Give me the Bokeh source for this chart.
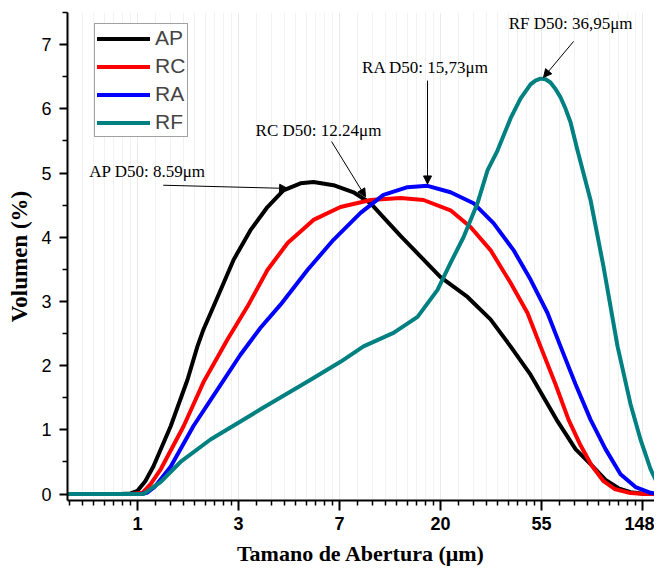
import math
from bokeh.plotting import figure
from bokeh.models import (Range1d, FixedTicker, CustomJSTickFormatter, Arrow,
                          NormalHead, Label, Legend, LegendItem)
from bokeh.embed import file_html
from bokeh.resources import INLINE

# ---------------- data ----------------
ap_x = [0.5, 0.845, 0.933, 1.00, 1.08, 1.17, 1.39, 1.64, 1.81, 1.92, 2.21, 2.59, 3.06, 3.62,
        4.24, 5.02, 5.71, 6.96, 8.49, 10.04, 11.42, 13.52, 20.09, 26.24, 32.95, 40.17, 48.97,
        63.33, 76.46, 89.58, 102.9, 117.0, 131.8, 152.9, 181]
ap_y = [0, 0, 0.01, 0.05, 0.2, 0.43, 1.06, 1.78, 2.30, 2.56, 3.07, 3.65, 4.11, 4.47,
        4.73, 4.84, 4.86, 4.81, 4.70, 4.53, 4.31, 4.02, 3.38, 3.07, 2.72, 2.30, 1.86,
        1.16, 0.70, 0.45, 0.22, 0.09, 0.03, 0, 0]

rc_x = [0.5, 0.933, 1.05, 1.14, 1.26, 1.58, 1.92, 2.44, 2.97, 3.62, 4.42, 5.71, 7.46, 10.04,
        13.52, 16.97, 22.18, 27.03, 32.95, 40.17, 47.53, 54.05, 62.71, 71.33, 80.33, 89.58,
        100.9, 112.5, 131.8, 152.9, 181]
rc_y = [0, 0, 0.02, 0.16, 0.39, 1.06, 1.74, 2.41, 2.92, 3.49, 3.91, 4.27, 4.47, 4.58,
        4.61, 4.58, 4.42, 4.16, 3.80, 3.29, 2.82, 2.30, 1.71, 1.16, 0.76, 0.45,
        0.20, 0.08, 0.015, 0, 0]

ra_x = [0.5, 1.03, 1.10, 1.19, 1.39, 1.74, 2.21, 2.77, 3.38, 4.12, 5.38, 6.96, 9.10, 11.42,
        14.49, 17.66, 22.18, 27.85, 33.94, 41.38, 48.97, 57.93, 65.89, 76.46, 88.69, 102.9,
        119.4, 138.5, 160.7, 181]
ra_y = [0, 0, 0.02, 0.12, 0.43, 1.06, 1.63, 2.17, 2.59, 2.95, 3.49, 3.96, 4.38, 4.66,
        4.78, 4.80, 4.70, 4.53, 4.22, 3.80, 3.34, 2.82, 2.30, 1.71, 1.16, 0.70,
        0.31, 0.11, 0.02, 0]

rf_x = [0.5, 1.06, 1.14, 1.26, 1.53, 2.06, 3.38, 5.55, 7.46, 9.37, 12.61, 16.00, 19.50, 22.18,
        25.22, 28.97, 31.99, 35.31, 40.17, 44.34, 48.97, 51.4, 54.05, 56.8, 59.68, 62.7,
        65.89, 69.3, 72.76, 77.99, 88.69, 100.9, 115.9, 131.8, 145.5, 160.7, 172.2, 181]
rf_y = [0, 0, 0.08, 0.19, 0.50, 0.85, 1.32, 1.78, 2.06, 2.30, 2.51, 2.76, 3.18, 3.60,
        4.00, 4.53, 5.04, 5.35, 5.85, 6.16, 6.38, 6.44, 6.47, 6.46, 6.41, 6.31,
        6.18, 6.00, 5.79, 5.35, 4.58, 3.54, 2.30, 1.40, 0.85, 0.39, 0.16, 0.06]

series_names = ["AP", "RC", "RA", "RF"]
series_colors = ["#000000", "#ff0000", "#0000ff", "#008080"]

x_tick_exponents = [0, 1, 2, 3, 4, 5]
x_tick_labels = ["1", "3", "7", "20", "55", "148"]
y_ticks = [0, 1, 2, 3, 4, 5, 6, 7]

annot_texts = ["AP D50: 8.59\u03bcm", "RC D50: 12.24\u03bcm", "RA D50: 15,73\u03bcm", "RF D50: 36,95\u03bcm"]
annot_text_pos = [(1.104, 5.03), (6.0, 5.66), (17.3, 6.64), (72.8, 7.33)]
annot_arrow_start = [(1.29, 4.81), (6.83, 5.49), (17.66, 6.44), (75.0, 7.05)]
annot_arrow_end = [(4.42, 4.76), (9.56, 4.63), (17.66, 4.83), (55.7, 6.49)]

# ---------------- figure ----------------
p = figure(width=654, height=568, x_axis_type="log",
           x_range=Range1d(0.5, 167.1), y_range=Range1d(-0.1, 7.5),
           output_backend="svg", toolbar_location=None,
           min_border_left=67, min_border_right=0, min_border_top=12, min_border_bottom=66)
p.outline_line_color = None
p.background_fill_color = "white"

renderers = []
for xs, ys, c in zip([ap_x, rc_x, ra_x, rf_x], [ap_y, rc_y, ra_y, rf_y], series_colors):
    r = p.line(xs, ys, line_color=c, line_width=4, line_join="round", line_cap="round")
    renderers.append(r)

# x axis: natural-log ticks
major = [math.e ** n for n in x_tick_exponents]
minor = []
for n in range(-1, 6):
    a, b = math.e ** n, math.e ** (n + 1)
    for k in range(1, 9):
        minor.append(a + k * (b - a) / 9)
p.xaxis.ticker = FixedTicker(ticks=major, minor_ticks=minor)
p.xaxis.formatter = CustomJSTickFormatter(args=dict(labels=x_tick_labels),
                                          code="return labels[Math.round(Math.log(tick))];")
p.yaxis.ticker = FixedTicker(ticks=y_ticks, minor_ticks=[v + 0.5 for v in range(-1, 8)])

for ax in (p.xaxis[0], p.yaxis[0]):
    ax.axis_line_width = 2
    ax.axis_line_color = "black"
    ax.major_tick_line_width = 2
    ax.minor_tick_line_width = 1.5
    ax.major_tick_in = 0
    ax.minor_tick_in = 0
    ax.axis_label_text_font = "Liberation Serif"
    ax.axis_label_text_font_style = "bold"
    ax.major_label_text_font = "Liberation Sans"
    ax.major_label_text_color = "black"
    ax.axis_label_text_color = "black"

p.xaxis.major_tick_out = 10
p.xaxis.minor_tick_out = 5
p.yaxis.major_tick_out = 8
p.yaxis.minor_tick_out = 5
p.xaxis.major_label_text_font_size = "18px"
p.xaxis.major_label_text_font_style = "bold"
p.yaxis.major_label_text_font_size = "18px"
p.xaxis.major_label_standoff = 6
p.yaxis.major_label_standoff = 8
p.xaxis.axis_label = "Tamano de Abertura (\u03bcm)"
p.yaxis.axis_label = "Volumen (%)"
p.xaxis.axis_label_text_font_size = "22px"
p.yaxis.axis_label_text_font_size = "23px"
p.xaxis.axis_label_standoff = 8
p.yaxis.axis_label_standoff = 6

p.xgrid.grid_line_color = "#ebebeb"
p.xgrid.minor_grid_line_color = "#f2f2f2"
p.ygrid.grid_line_color = None

# legend
items = [LegendItem(label=n, renderers=[r]) for n, r in zip(series_names, renderers)]
legend = Legend(items=items, location=(27, 363), glyph_width=53, glyph_height=21,
                label_text_font="Liberation Sans", label_text_font_size="21px",
                label_standoff=5, spacing=4, padding=2, margin=0,
                border_line_color="#444444", border_line_width=1,
                background_fill_color="white", background_fill_alpha=1)
p.add_layout(legend, "center")

# annotations
for t, (tx, ty), (sx, sy), (ex, ey) in zip(annot_texts, annot_text_pos,
                                           annot_arrow_start, annot_arrow_end):
    p.add_layout(Label(x=tx, y=ty, text=t, text_align="center", text_baseline="middle",
                       text_font="Liberation Serif", text_font_size="17px", text_color="black"))
    p.add_layout(Arrow(x_start=sx, y_start=sy, x_end=ex, y_end=ey, line_width=1,
                       line_color="black",
                       end=NormalHead(size=8, fill_color="black", line_color="black")))

open("out.html", "w").write(file_html(p, INLINE))
